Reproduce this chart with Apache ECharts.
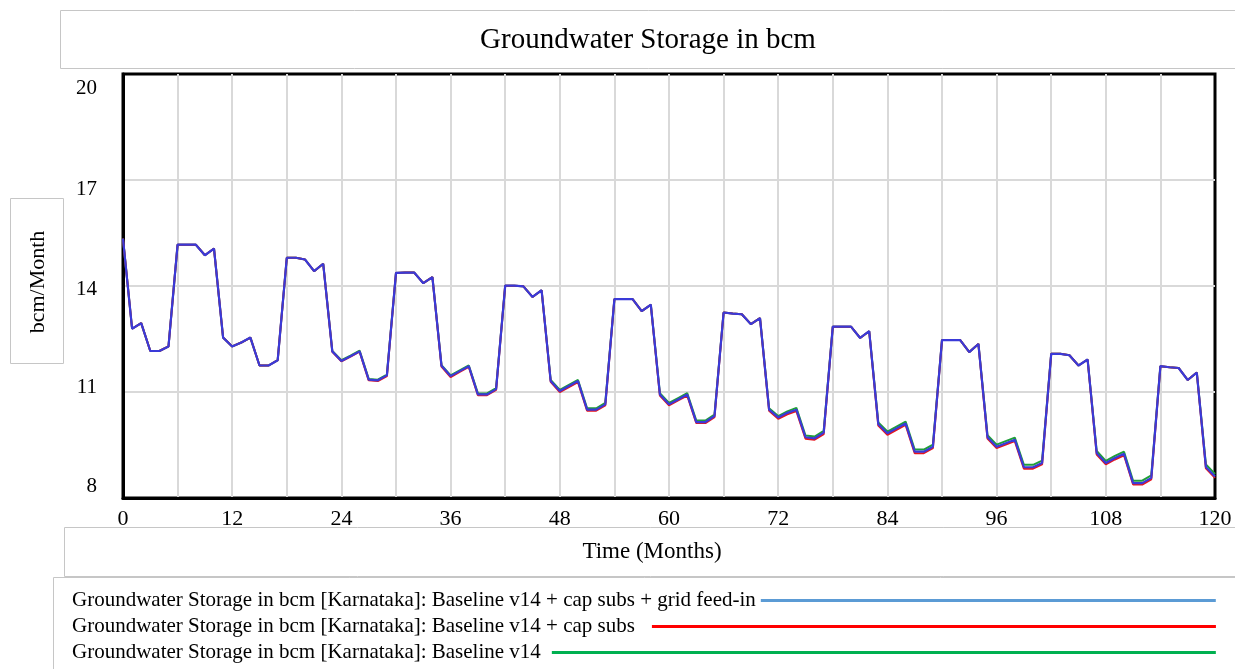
<!DOCTYPE html>
<html>
<head>
<meta charset="utf-8">
<title>Groundwater Storage in bcm</title>
<script src="https://cdn.jsdelivr.net/npm/echarts@6/dist/echarts.min.js"></script>
<style>
  html, body { margin: 0; padding: 0; background: #fff; }
  #chart { width: 1235px; height: 669px; }
</style>
</head>
<body>
<div id="chart"></div>
<script>
// months 0..120
let months = [];
for (let i = 0; i <= 120; i++) months.push(i);

let xTicks = [0, 12, 24, 36, 48, 60, 72, 84, 96, 108, 120];
let yTicks = [8, 11, 14, 17, 20];

let nameGrid = 'Groundwater Storage in bcm [Karnataka]: Baseline v14 + cap subs + grid feed-in';
let nameCap = 'Groundwater Storage in bcm [Karnataka]: Baseline v14 + cap subs';
let nameBase = 'Groundwater Storage in bcm [Karnataka]: Baseline v14';

// Baseline v14 + cap subs + grid feed-in (blue)
let gridFeedIn = [
  15.34, 12.79, 12.95, 12.16, 12.16, 12.29, 15.17, 15.17, 15.17, 14.87, 15.06, 12.54,
  12.29, 12.40, 12.54, 11.75, 11.75, 11.90, 14.80, 14.80, 14.75, 14.42, 14.63, 12.15,
  11.88, 12.01, 12.15, 11.35, 11.33, 11.47, 14.37, 14.38, 14.38, 14.08, 14.25, 11.74,
  11.45, 11.59, 11.73, 10.93, 10.93, 11.08, 14.01, 14.01, 13.99, 13.69, 13.88, 11.31,
  11.03, 11.17, 11.31, 10.50, 10.50, 10.65, 13.63, 13.63, 13.63, 13.29, 13.47, 10.93,
  10.65, 10.79, 10.93, 10.15, 10.15, 10.32, 13.25, 13.22, 13.20, 12.92, 13.09, 10.50,
  10.28, 10.41, 10.50, 9.72, 9.69, 9.85, 12.85, 12.85, 12.85, 12.53, 12.72, 10.09,
  9.83, 9.97, 10.11, 9.31, 9.31, 9.45, 12.47, 12.47, 12.47, 12.13, 12.36, 9.72,
  9.45, 9.55, 9.65, 8.87, 8.87, 8.99, 12.08, 12.08, 12.04, 11.75, 11.92, 9.27,
  8.99, 9.13, 9.25, 8.42, 8.42, 8.57, 11.73, 11.70, 11.68, 11.34, 11.55, 8.88,
  8.61
];

// Baseline v14 + cap subs (red)
let capSubs = [
  15.34, 12.79, 12.95, 12.16, 12.16, 12.29, 15.17, 15.17, 15.17, 14.87, 15.06, 12.54,
  12.29, 12.40, 12.54, 11.75, 11.75, 11.90, 14.80, 14.80, 14.75, 14.42, 14.63, 12.14,
  11.87, 12.00, 12.14, 11.33, 11.31, 11.45, 14.37, 14.38, 14.38, 14.08, 14.25, 11.72,
  11.42, 11.57, 11.71, 10.91, 10.91, 11.06, 14.01, 14.01, 13.99, 13.69, 13.88, 11.29,
  11.00, 11.14, 11.28, 10.47, 10.47, 10.62, 13.63, 13.63, 13.63, 13.29, 13.47, 10.90,
  10.62, 10.76, 10.90, 10.12, 10.12, 10.29, 13.25, 13.22, 13.20, 12.92, 13.09, 10.47,
  10.24, 10.37, 10.46, 9.68, 9.65, 9.81, 12.85, 12.85, 12.85, 12.53, 12.72, 10.05,
  9.79, 9.93, 10.07, 9.27, 9.27, 9.41, 12.47, 12.47, 12.47, 12.13, 12.36, 9.68,
  9.41, 9.51, 9.61, 8.83, 8.83, 8.95, 12.08, 12.08, 12.04, 11.75, 11.92, 9.23,
  8.95, 9.09, 9.21, 8.38, 8.38, 8.53, 11.73, 11.70, 11.68, 11.34, 11.55, 8.84,
  8.57
];

// Baseline v14 (green)
let baseline = [
  15.34, 12.79, 12.95, 12.16, 12.16, 12.29, 15.17, 15.17, 15.17, 14.87, 15.06, 12.54,
  12.29, 12.40, 12.54, 11.75, 11.75, 11.90, 14.80, 14.80, 14.75, 14.42, 14.63, 12.16,
  11.90, 12.03, 12.17, 11.37, 11.35, 11.49, 14.37, 14.38, 14.38, 14.08, 14.25, 11.76,
  11.47, 11.61, 11.75, 10.96, 10.96, 11.11, 14.01, 14.01, 13.99, 13.69, 13.88, 11.34,
  11.06, 11.20, 11.34, 10.54, 10.54, 10.69, 13.63, 13.63, 13.63, 13.29, 13.47, 10.97,
  10.69, 10.83, 10.97, 10.19, 10.19, 10.36, 13.25, 13.22, 13.20, 12.92, 13.09, 10.54,
  10.32, 10.45, 10.55, 9.77, 9.74, 9.90, 12.85, 12.85, 12.85, 12.53, 12.72, 10.14,
  9.88, 10.02, 10.16, 9.37, 9.37, 9.51, 12.47, 12.47, 12.47, 12.13, 12.36, 9.78,
  9.51, 9.61, 9.71, 8.94, 8.94, 9.06, 12.08, 12.08, 12.04, 11.75, 11.92, 9.33,
  9.05, 9.19, 9.31, 8.49, 8.49, 8.64, 11.73, 11.70, 11.68, 11.34, 11.55, 8.95,
  8.68
];

let serif = '"Liberation Serif", "Times New Roman", serif';

function pairs(values){
  return months.map((m, i) => [m, values[i]]);
}

// legend lines all end at the same x, so measure each text first
function textWidth(text, size){
  let ctx = document.createElement('canvas').getContext('2d');
  ctx.font = size + 'px ' + serif;
  return ctx.measureText(text).width;
}

let legendFont = 21;
let legendLeft = 72;
let legendEnd = 1216;
function legendRow(name, color, top, gap){
  let w = legendEnd - legendLeft - textWidth(name, legendFont) - 5 - gap;
  return {
    left: legendLeft,
    top: top,
    padding: 0,
    align: 'right',
    icon: 'rect',
    itemWidth: Math.round(w),
    itemHeight: 3,
    selectedMode: false,
    data: [{ name: name, itemStyle: { color: color } }],
    textStyle: { fontFamily: serif, fontSize: legendFont, color: '#000', padding: [0, gap, 0, 0] }
  };
}

// Vensim puts the y labels a little off their grid lines
let yLabelShift = { 20: 14, 17: 9, 14: 3, 11: -5, 8: -12 };
let yRich = {};
yTicks.forEach(v => {
  let s = yLabelShift[v];
  yRich['y' + v] = {
    fontFamily: serif, fontSize: 21, color: '#000',
    padding: s >= 0 ? [2 * s, 0, 0, 0] : [0, 0, -2 * s, 0]
  };
});

let boxStroke = '#c6c6c6';
let chart = echarts.init(document.getElementById('chart'));
let option = {
  animation: false,
  backgroundColor: '#fff',
  title: {
    text: 'Groundwater Storage in bcm',
    left: 643,
    top: 21,
    textAlign: 'center',
    textStyle: { fontFamily: serif, fontSize: 29, fontWeight: 'normal', color: '#000' }
  },
  graphic: [
    { type: 'rect', shape: { x: 60.5, y: 10.5, width: 1190, height: 58 }, style: { fill: null, stroke: boxStroke, lineWidth: 1 } },
    { type: 'rect', shape: { x: 10.5, y: 198.5, width: 53, height: 165 }, style: { fill: null, stroke: boxStroke, lineWidth: 1 } },
    { type: 'rect', shape: { x: 64.5, y: 527.5, width: 1190, height: 49 }, style: { fill: null, stroke: boxStroke, lineWidth: 1 } },
    { type: 'rect', shape: { x: 53.5, y: 577.5, width: 1190, height: 100 }, style: { fill: null, stroke: boxStroke, lineWidth: 1 } }
  ],
  legend: [
    legendRow(nameGrid, '#5b9bd5', 590, 0),
    legendRow(nameCap, '#ff0000', 616, 12),
    legendRow(nameBase, '#00b050', 642, 6)
  ],
  grid: {
    left: 123, top: 74, right: 20, bottom: 171,
    show: true, borderColor: '#000', borderWidth: 3, backgroundColor: '#fff'
  },
  xAxis: {
    type: 'value',
    min: 0, max: 120, interval: 6,
    name: 'Time (Months)',
    nameLocation: 'middle',
    nameGap: 42,
    nameTextStyle: { fontFamily: serif, fontSize: 23, color: '#000', padding: [0, 34, 0, 0] },
    axisLine: { show: true, lineStyle: { color: '#000', width: 3 } },
    axisTick: { show: false },
    axisLabel: {
      margin: 10, fontFamily: serif, fontSize: 22, color: '#000',
      formatter: v => (xTicks.indexOf(v) >= 0 ? String(v) : '')
    },
    splitLine: { show: true, showMinLine: false, showMaxLine: false, lineStyle: { color: '#d9d9d9', width: 2 } }
  },
  yAxis: {
    type: 'value',
    min: 8, max: 20, interval: 3,
    name: 'bcm/Month',
    nameLocation: 'middle',
    nameGap: 74,
    nameRotate: 90,
    nameTextStyle: { fontFamily: serif, fontSize: 22, color: '#000', padding: [0, 0, 0, 8] },
    axisLine: { show: true, lineStyle: { color: '#000', width: 3 } },
    axisTick: { show: false },
    axisLabel: {
      margin: 26,
      formatter: v => '{y' + v + '|' + v + '}',
      rich: yRich
    },
    splitLine: { show: true, showMinLine: false, showMaxLine: false, lineStyle: { color: '#d9d9d9', width: 2 } }
  },
  series: [
    { name: nameBase, type: 'line', data: pairs(baseline), showSymbol: false, lineStyle: { color: '#1f9e3a', width: 2 }, itemStyle: { color: '#1f9e3a' } },
    { name: nameCap, type: 'line', data: pairs(capSubs), showSymbol: false, lineStyle: { color: '#e8141c', width: 2 }, itemStyle: { color: '#e8141c' } },
    { name: nameGrid, type: 'line', data: pairs(gridFeedIn), showSymbol: false, lineStyle: { color: '#3a3ad8', width: 2.2 }, itemStyle: { color: '#3a3ad8' } }
  ]
};
chart.setOption(option);
</script>
</body>
</html>
